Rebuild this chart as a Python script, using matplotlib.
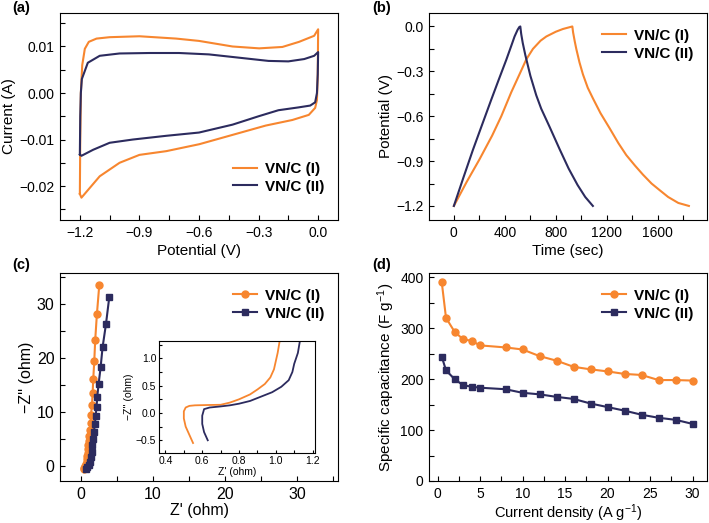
import matplotlib
matplotlib.use("Agg")
import matplotlib.pyplot as plt
from matplotlib.ticker import AutoMinorLocator, MultipleLocator

plt.rcParams['font.family'] = ['Liberation Sans', 'DejaVu Sans']
plt.rcParams['mathtext.default'] = 'regular'
plt.rcParams['axes.linewidth'] = 0.8

ORANGE = '#F7862F'
NAVY = '#2C2B5E'
labels = ['VN/C (I)', 'VN/C (II)']

# (a) CV loops
cv1_v = [-1.2, -1.198, -1.195, -1.188, -1.175, -1.155, -1.116, -1.05, -0.9, -0.715, -0.6, -0.431,
         -0.297, -0.18, -0.096, -0.02, 0.0,
         -0.002, -0.006, -0.015, -0.047, -0.13, -0.264, -0.431, -0.598, -0.765, -0.9, -1.0,
         -1.1, -1.192, -1.2]
cv1_i = [-0.0217, -0.010, 0.0, 0.006, 0.0095, 0.0110, 0.0117, 0.0120, 0.0122, 0.0117, 0.0112, 0.0100,
         0.0096, 0.0099, 0.0110, 0.0123, 0.0137,
         0.004, -0.0015, -0.0032, -0.0047, -0.0058, -0.0070, -0.0090, -0.0110, -0.0125, -0.0133, -0.0150,
         -0.0179, -0.0225, -0.0217]
cv2_v = [-1.2, -1.198, -1.195, -1.19, -1.16, -1.1, -1.0, -0.85, -0.7, -0.55, -0.4, -0.25, -0.15,
         -0.07, -0.02, 0.0,
         -0.002, -0.006, -0.015, -0.04, -0.1, -0.2, -0.3, -0.431, -0.6, -0.765, -0.933, -1.05,
         -1.133, -1.192, -1.2]
cv2_i = [-0.0132, -0.005, 0.0, 0.003, 0.0065, 0.0080, 0.0085, 0.0086, 0.0086, 0.0083, 0.0076, 0.0069,
         0.0068, 0.0073, 0.0080, 0.0088,
         0.004, 0.0, -0.002, -0.0027, -0.0031, -0.0037, -0.0050, -0.0068, -0.0085, -0.0092, -0.0100,
         -0.0107, -0.0122, -0.0135, -0.0132]

# (b) charge/discharge
gcd1_t = [0, 100, 200, 300, 372, 450, 520, 568, 620, 680, 725, 800, 855, 929,
          935, 948, 960, 985, 1012, 1050, 1090, 1150, 1221, 1290, 1352, 1420, 1482, 1550,
          1613, 1680, 1760, 1843]
gcd1_v = [-1.2, -1.04, -0.89, -0.73, -0.60, -0.44, -0.31, -0.22, -0.15, -0.095, -0.067, -0.035,
          -0.017, 0.0,
          -0.04, -0.10, -0.15, -0.24, -0.32, -0.41, -0.48, -0.58, -0.68, -0.78, -0.86, -0.93,
          -0.99, -1.05, -1.094, -1.14, -1.18, -1.2]
gcd2_t = [0, 75, 149, 220, 293, 350, 411, 450, 476, 500, 513, 521,
          528, 540, 560, 600, 646, 685, 750, 829, 900, 970, 1030, 1090]
gcd2_v = [-1.2, -1.01, -0.826, -0.66, -0.49, -0.36, -0.223, -0.13, -0.067, -0.022, -0.004, 0.0,
          -0.05, -0.11, -0.19, -0.33, -0.46, -0.55, -0.67, -0.82, -0.95, -1.06, -1.14, -1.2]

# (c) Nyquist
eis1_re = [0.45, 0.5, 0.6, 0.7, 0.78, 0.85, 0.9, 0.95, 1.0, 1.05, 1.1, 1.17, 1.26, 1.35, 1.40,
           1.54, 1.63, 1.72, 1.86, 1.99, 2.22, 2.55]
eis1_im = [-0.6, -0.3, 0.0, 0.3, 0.7, 1.2, 1.8, 2.4, 3.1, 3.8, 4.6, 5.5, 6.6, 7.9, 9.4,
           11.3, 13.5, 16.2, 19.5, 23.4, 28.1, 33.5]
eis2_re = [0.75, 0.9, 1.1, 1.3, 1.4, 1.5, 1.6, 1.7, 1.81, 1.95, 2.04, 2.18, 2.27, 2.46, 2.74,
           3.01, 3.48, 3.94]
eis2_im = [-0.5, -0.2, 0.2, 0.8, 1.6, 2.6, 3.8, 5.0, 6.3, 7.7, 9.2, 11.0, 12.8, 15.2, 18.3,
           22.0, 26.3, 31.3]
# inset, high-frequency region
ins1_re = [0.55, 0.53, 0.51, 0.50, 0.50, 0.51, 0.53, 0.56, 0.62, 0.70, 0.75, 0.80, 0.86, 0.90,
           0.94, 0.97, 0.99, 1.00, 1.01, 1.02]
ins1_im = [-0.55, -0.40, -0.25, -0.10, 0.03, 0.10, 0.13, 0.14, 0.145, 0.15, 0.19, 0.25, 0.34, 0.43,
           0.53, 0.65, 0.80, 0.95, 1.10, 1.30]
ins2_re = [0.63, 0.61, 0.60, 0.60, 0.61, 0.64, 0.70, 0.75, 0.80, 0.86, 0.92, 0.98, 1.03, 1.07,
           1.09, 1.10, 1.12, 1.13]
ins2_im = [-0.50, -0.35, -0.20, -0.05, 0.07, 0.10, 0.12, 0.14, 0.17, 0.22, 0.30, 0.38, 0.48, 0.60,
           0.75, 0.90, 1.10, 1.30]

# (d) rate capability
cur_density = [0.5, 1, 2, 3, 4, 5, 8, 10, 12, 14, 16, 18, 20, 22, 24, 26, 28, 30]
cap1 = [390, 320, 293, 278, 275, 266, 262, 258, 245, 236, 224, 219, 215, 210, 208, 198, 198, 197]
cap2 = [244, 217, 200, 188, 185, 183, 180, 173, 170, 165, 161, 152, 145, 138, 130, 124, 120, 112]

W, H = 709, 523
fig = plt.figure(figsize=(W / 100, H / 100), dpi=100)


def box(x0, y0, x1, y1):
    return [x0 / W, 1 - y1 / H, (x1 - x0) / W, (y1 - y0) / H]


def style(ax, size=10):
    ax.tick_params(which='both', direction='in', labelsize=size, top=False, right=False, pad=4)
    ax.tick_params(which='major', length=3.5, width=0.8)
    ax.tick_params(which='minor', length=3.5, width=0.8)
    ax.xaxis.set_minor_locator(AutoMinorLocator(2))
    ax.yaxis.set_minor_locator(AutoMinorLocator(2))


def minus(fmt):
    return lambda v, p: format(v, fmt).replace('-', '\u2212')


leg_kw = dict(frameon=False, prop={'weight': 'bold', 'size': 11}, handlelength=1.6,
              handletextpad=0.5, labelspacing=0.25)

# (a)
ax = fig.add_axes(box(60, 13, 338, 220))
ax.plot(cv1_v, cv1_i, color=ORANGE, lw=1.5, label=labels[0])
ax.plot(cv2_v, cv2_i, color=NAVY, lw=1.5, label=labels[1])
ax.set_xlim(-1.3, 0.1)
ax.set_ylim(-0.0273, 0.0172)
ax.xaxis.set_major_locator(MultipleLocator(0.3))
ax.yaxis.set_major_locator(MultipleLocator(0.01))
ax.xaxis.set_major_formatter(minus('.1f'))
ax.yaxis.set_major_formatter(minus('.2f'))
style(ax)
ax.set_xlabel('Potential (V)', fontsize=11, labelpad=3)
ax.set_ylabel('Current (A)', fontsize=11, labelpad=2)
ax.legend(loc='lower right', bbox_to_anchor=(1.0, 0.06), **leg_kw)

# (b)
ax = fig.add_axes(box(429, 13, 707, 220))
ax.plot(gcd1_t, gcd1_v, color=ORANGE, lw=1.5, label=labels[0])
ax.plot(gcd2_t, gcd2_v, color=NAVY, lw=1.5, label=labels[1])
ax.set_xlim(-195, 1985)
ax.set_ylim(-1.294, 0.09)
ax.xaxis.set_major_locator(MultipleLocator(400))
ax.yaxis.set_major_locator(MultipleLocator(0.3))
ax.yaxis.set_major_formatter(minus('.1f'))
style(ax)
ax.set_xlabel('Time (sec)', fontsize=11, labelpad=3)
ax.set_ylabel('Potential (V)', fontsize=11, labelpad=2)
ax.legend(loc='upper right', bbox_to_anchor=(1.0, 0.99), **leg_kw)

# (c)
ax = fig.add_axes(box(60, 273, 338, 481))
ax.plot(eis1_re, eis1_im, color=ORANGE, lw=1.5, marker='o', ms=5, label=labels[0])
ax.plot(eis2_re, eis2_im, color=NAVY, lw=1.5, marker='s', ms=5, label=labels[1])
ax.set_xlim(-2.9, 35.7)
ax.set_ylim(-2.8, 35.8)
ax.xaxis.set_major_locator(MultipleLocator(10))
ax.yaxis.set_major_locator(MultipleLocator(10))
style(ax, 11.5)
ax.set_xlabel("Z' (ohm)", fontsize=11.5, labelpad=1)
ax.set_ylabel("\u2212Z'' (ohm)", fontsize=11.5, labelpad=2)
ax.legend(loc='upper right', bbox_to_anchor=(1.0, 0.99), **leg_kw)

ins = fig.add_axes(box(159, 341, 315, 453))
ins.plot(ins1_re, ins1_im, color=ORANGE, lw=1.3)
ins.plot(ins2_re, ins2_im, color=NAVY, lw=1.3)
ins.set_xlim(0.365, 1.213)
ins.set_ylim(-0.733, 1.318)
ins.xaxis.set_major_locator(MultipleLocator(0.2))
ins.yaxis.set_major_locator(MultipleLocator(0.5))
ins.yaxis.set_major_formatter(minus('.1f'))
style(ins, 7.5)
ins.tick_params(which='both', length=2.5, pad=2)
ins.set_xlabel("Z' (ohm)", fontsize=7.5, labelpad=1)
ins.set_ylabel("\u2212Z'' (ohm)", fontsize=7.5, labelpad=1)

# (d)
ax = fig.add_axes(box(429, 273, 707, 481))
ax.plot(cur_density, cap1, color=ORANGE, lw=1.5, marker='o', ms=5, label=labels[0])
ax.plot(cur_density, cap2, color=NAVY, lw=1.5, marker='s', ms=5, label=labels[1])
ax.set_xlim(-1, 31.7)
ax.set_ylim(0, 408)
ax.xaxis.set_major_locator(MultipleLocator(5))
ax.yaxis.set_major_locator(MultipleLocator(100))
style(ax)
ax.set_xlabel('Current density (A g$^{-1}$)', fontsize=10.5, labelpad=1)
ax.set_ylabel('Specific capacitance (F g$^{-1}$)', fontsize=11, labelpad=2)
ax.legend(loc='upper right', bbox_to_anchor=(1.0, 0.99), **leg_kw)

for lab, x, y in [('(a)', 12, 8), ('(b)', 372, 8), ('(c)', 12, 265), ('(d)', 372, 265)]:
    fig.text(x / W, 1 - y / H, lab, fontsize=10.5, fontweight='bold', va='center', ha='left')

fig.savefig('out.png', dpi=100)
